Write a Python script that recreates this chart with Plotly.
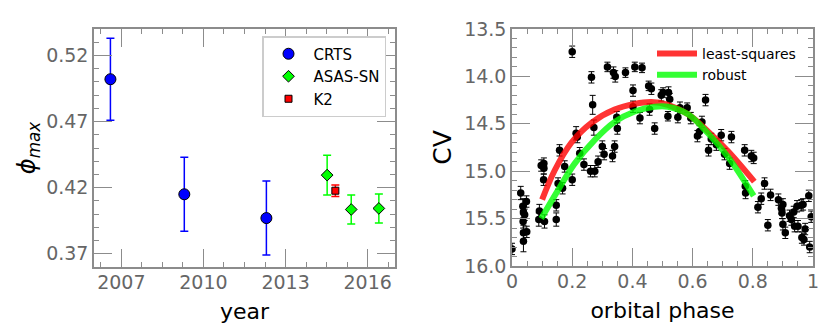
"""Phase of maximum vs year, and CV light curve folded on orbital phase."""

import plotly.graph_objects as go

# ---- left panel: phase of maximum per season ----
CRTS_YEAR = [2006.6, 2009.3, 2012.3]
CRTS_PHI = [0.502, 0.415, 0.397]
CRTS_ERR = [0.031, 0.028, 0.028]

ASASSN_YEAR = [2014.52, 2015.4, 2016.41]
ASASSN_PHI = [0.4295, 0.4035, 0.4043]
ASASSN_ERR = [0.015, 0.011, 0.011]

K2_YEAR = [2014.82]
K2_PHI = [0.4177]
K2_ERR = [0.0043]

# ---- right panel: folded light curve ----
PHASE = [0.000, 0.029, 0.036, 0.038, 0.037, 0.038, 0.048, 0.042, 0.049, 0.038,
         0.091, 0.089, 0.097, 0.106, 0.105, 0.108, 0.106, 0.147, 0.147, 0.153,
         0.158, 0.168, 0.175, 0.200, 0.200, 0.213, 0.217, 0.225, 0.239, 0.264,
         0.268, 0.272, 0.261, 0.275, 0.286, 0.300, 0.306, 0.317, 0.337, 0.343,
         0.334, 0.341, 0.348, 0.350, 0.377, 0.402, 0.408, 0.432, 0.402, 0.425,
         0.454, 0.463, 0.457, 0.474, 0.496, 0.502, 0.520, 0.524, 0.518, 0.551,
         0.558, 0.582, 0.594, 0.616, 0.623, 0.631, 0.643, 0.653, 0.662, 0.679,
         0.695, 0.706, 0.723, 0.729, 0.773, 0.775, 0.776, 0.795, 0.803, 0.817,
         0.828, 0.839, 0.850, 0.859, 0.885, 0.895, 0.900, 0.897, 0.900, 0.908,
         0.922, 0.928, 0.936, 0.939, 0.947, 0.950, 0.961, 0.967, 0.963, 0.970,
         0.974, 0.986, 0.989, 0.994]
MAG = [15.82, 15.23, 15.37, 15.43, 15.53, 15.65, 15.32, 15.46, 15.64, 15.74,
       15.42, 15.51, 14.94, 14.92, 15.09, 15.53, 14.97, 15.36, 15.51, 15.13,
       14.78, 15.18, 14.95, 13.74, 15.09, 14.60, 14.64, 14.81, 14.93, 14.01,
       14.30, 14.54, 15.00, 15.00, 14.90, 14.74, 14.82, 13.90, 13.96, 14.00,
       14.84, 14.74, 14.43, 14.55, 13.96, 14.15, 13.90, 13.91, 14.32, 14.44,
       14.10, 14.13, 14.35, 14.55, 14.20, 14.17, 14.17, 14.24, 14.42, 14.43,
       14.33, 14.33, 14.44, 14.63, 14.58, 14.48, 14.25, 14.78, 14.66, 14.72,
       14.62, 14.82, 14.92, 14.64, 14.78, 15.16, 15.23, 14.84, 14.86, 15.38,
       15.29, 15.13, 15.57, 15.25, 15.30, 15.39, 15.35, 15.44, 15.56, 15.65,
       15.47, 15.51, 15.43, 15.58, 15.37, 15.58, 15.36, 15.35, 15.70, 15.72,
       15.61, 15.26, 15.80, 15.48]
MAG_ERR = [0.06, 0.07, 0.08, 0.06, 0.07, 0.08, 0.06, 0.06, 0.06, 0.11,
           0.07, 0.07, 0.06, 0.06, 0.06, 0.07, 0.06, 0.06, 0.07, 0.06,
           0.06, 0.06, 0.06, 0.06, 0.06, 0.07, 0.06, 0.06, 0.06, 0.06,
           0.10, 0.08, 0.06, 0.06, 0.06, 0.06, 0.06, 0.05, 0.06, 0.06,
           0.06, 0.06, 0.06, 0.06, 0.05, 0.06, 0.05, 0.05, 0.06, 0.06,
           0.05, 0.06, 0.06, 0.06, 0.06, 0.05, 0.06, 0.06, 0.05, 0.06,
           0.06, 0.05, 0.06, 0.06, 0.06, 0.06, 0.06, 0.06, 0.06, 0.06,
           0.06, 0.06, 0.06, 0.06, 0.06, 0.06, 0.06, 0.06, 0.06, 0.06,
           0.06, 0.06, 0.06, 0.06, 0.06, 0.06, 0.06, 0.06, 0.06, 0.06,
           0.06, 0.06, 0.06, 0.06, 0.06, 0.06, 0.06, 0.06, 0.06, 0.06,
           0.06, 0.06, 0.06, 0.06]

# fitted curves, sampled off the figure
LSQ_PHASE = [0.100, 0.142, 0.197, 0.264, 0.341, 0.408, 0.463, 0.518, 0.585, 0.651, 0.718, 0.805]
LSQ_MAG = [15.30, 14.99, 14.70, 14.49, 14.35, 14.29, 14.27, 14.30, 14.40, 14.58, 14.79, 15.11]
ROB_PHASE = [0.097, 0.153, 0.208, 0.275, 0.341, 0.408, 0.474, 0.518, 0.585, 0.651, 0.718, 0.803]
ROB_MAG = [15.50, 15.20, 14.92, 14.67, 14.48, 14.37, 14.32, 14.32, 14.40, 14.60, 14.85, 15.26]

FONT = "DejaVu Sans"
GRAY = "#666666"
FRAME = "#8c8c8c"

fig = go.Figure()


def errbar(vals, color, width=1.5, cap=4):
    return dict(type="data", array=vals, visible=True, color=color,
                thickness=width, width=cap)


fig.add_trace(go.Scatter(
    x=CRTS_YEAR, y=CRTS_PHI, mode="markers", name="CRTS",
    error_y=errbar(CRTS_ERR, "#0000ff"),
    marker=dict(symbol="circle", size=11, color="#0000ff",
                line=dict(color="black", width=1)),
    xaxis="x", yaxis="y", legend="legend"))
fig.add_trace(go.Scatter(
    x=ASASSN_YEAR, y=ASASSN_PHI, mode="markers", name="ASAS-SN",
    error_y=errbar(ASASSN_ERR, "#00ff00"),
    marker=dict(symbol="diamond", size=9, color="#00ff00",
                line=dict(color="black", width=1)),
    xaxis="x", yaxis="y", legend="legend"))
fig.add_trace(go.Scatter(
    x=K2_YEAR, y=K2_PHI, mode="markers", name="K2",
    error_y=errbar(K2_ERR, "#ff0000"),
    marker=dict(symbol="square", size=7, color="#ff0000",
                line=dict(color="black", width=1)),
    xaxis="x", yaxis="y", legend="legend"))

fig.add_trace(go.Scatter(
    x=PHASE, y=MAG, mode="markers", showlegend=False,
    error_y=errbar(MAG_ERR, "black", width=1, cap=3),
    marker=dict(symbol="circle", size=7.5, color="black"),
    xaxis="x2", yaxis="y2"))
fig.add_trace(go.Scatter(
    x=LSQ_PHASE, y=LSQ_MAG, mode="lines", name="least-squares",
    line=dict(color="rgba(255,0,0,0.8)", width=6, shape="spline"),
    xaxis="x2", yaxis="y2", legend="legend2"))
fig.add_trace(go.Scatter(
    x=ROB_PHASE, y=ROB_MAG, mode="lines", name="robust",
    line=dict(color="rgba(0,255,0,0.8)", width=6, shape="spline"),
    xaxis="x2", yaxis="y2", legend="legend2"))

axis_common = dict(
    showline=True, linecolor=FRAME, linewidth=1.5, mirror="allticks",
    ticks="inside", ticklen=18, tickcolor=FRAME, tickwidth=1,
    showgrid=False, zeroline=False, automargin=False,
    tickfont=dict(family=FONT, size=19, color=GRAY),
)
minor_common = dict(ticks="inside", ticklen=5, tickcolor=FRAME, tickwidth=1)

W, H = 830, 329
fig.update_layout(
    width=W, height=H,
    margin=dict(l=0, r=0, t=0, b=0),
    paper_bgcolor="white", plot_bgcolor="white",
    font=dict(family=FONT, color="black"),
    xaxis=dict(axis_common, domain=[94 / W, 395 / W], range=[2006, 2017],
               tick0=2007, dtick=3, minor=dict(minor_common, dtick=0.75),
               ticklabelstandoff=-3,
               title=dict(text="year", font=dict(size=22), standoff=12)),
    yaxis=dict(axis_common, domain=[(H - 267) / H, (H - 29) / H], range=[0.36, 0.54],
               tickvals=[0.37, 0.42, 0.47, 0.52], ticktext=["0.37", "0.42", "0.47", "0.52"],
               minor=dict(minor_common, dtick=0.01, tick0=0.37),
               title=dict(text="<i>ϕ</i><sub><i>max</i></sub>", font=dict(size=24), standoff=4)),
    xaxis2=dict(axis_common, domain=[512 / W, 813 / W], range=[0, 1], anchor="y2",
                tickvals=[0, 0.2, 0.4, 0.6, 0.8, 1],
                ticktext=["0", "0.2", "0.4", "0.6", "0.8", "1"],
                minor=dict(minor_common, dtick=0.05),
                ticklabelstandoff=-3,
                title=dict(text="orbital phase", font=dict(size=22), standoff=12)),
    yaxis2=dict(axis_common, domain=[(H - 266) / H, (H - 29) / H], range=[16.0, 13.5],
                anchor="x2", tickvals=[13.5, 14.0, 14.5, 15.0, 15.5, 16.0],
                ticktext=["13.5", "14.0", "14.5", "15.0", "15.5", "16.0"],
                minor=dict(minor_common, dtick=0.1, tick0=13.5),
                title=dict(text="CV", font=dict(size=25), standoff=5)),
    legend=dict(x=262 / W, y=1 - 36 / H, xanchor="left", yanchor="top",
                bgcolor="white", bordercolor="#cccccc", borderwidth=1.5,
                font=dict(family=FONT, size=15, color="black"),
                itemwidth=40, tracegroupgap=0),
    legend2=dict(x=652 / W, y=1 - 38 / H, xanchor="left", yanchor="top",
                 bgcolor="rgba(0,0,0,0)", borderwidth=0,
                 font=dict(family=FONT, size=14, color="black"),
                 itemwidth=40),
)

fig.write_html("out.html", config={"displayModeBar": False},
               post_script="document.body.style.margin='0';")
